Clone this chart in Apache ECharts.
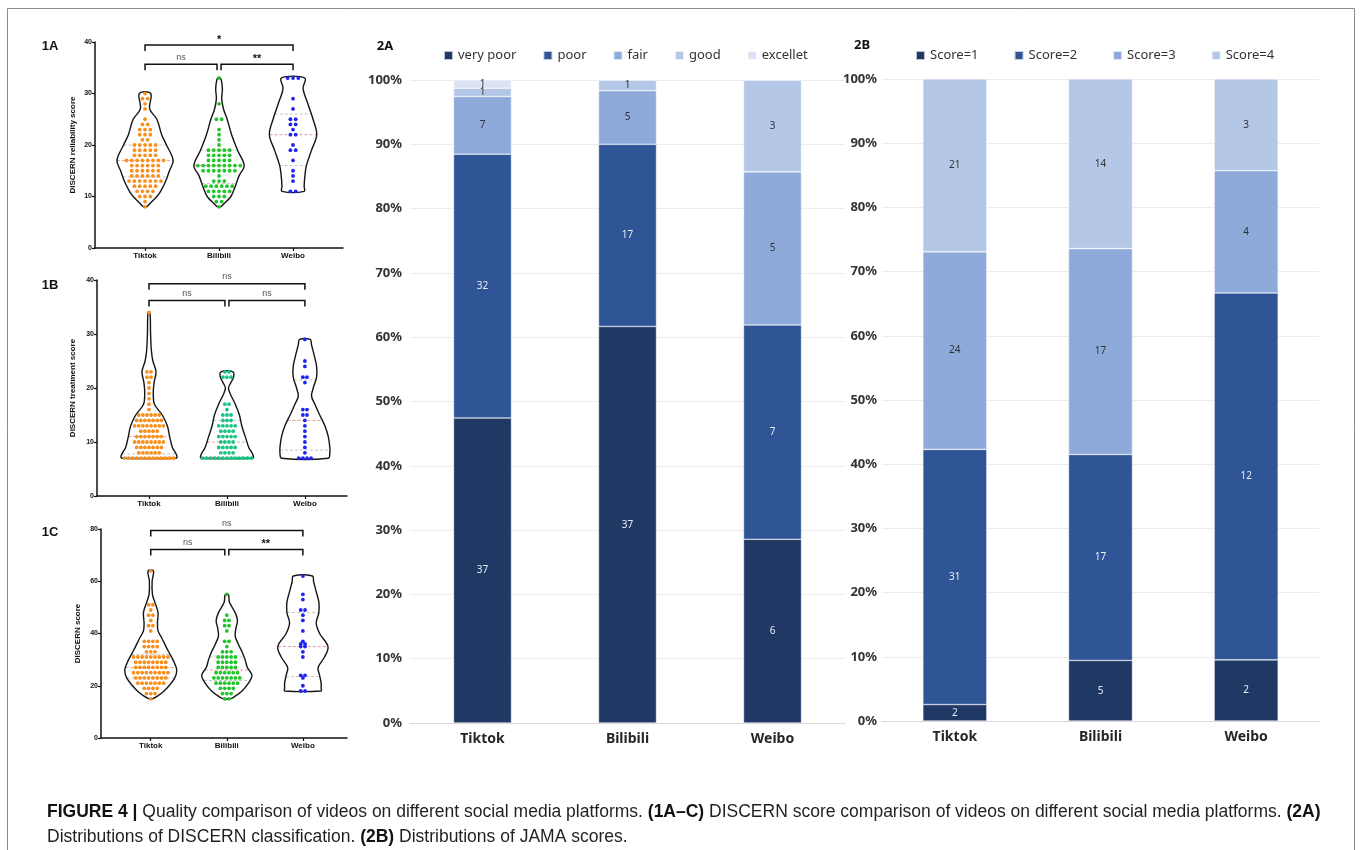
<!DOCTYPE html>
<html><head><meta charset="utf-8">
<script src="https://cdn.jsdelivr.net/npm/echarts@6/dist/echarts.min.js"></script>
<style>html,body{margin:0;padding:0;background:#fff}#c{width:1360px;height:850px}</style>
</head><body><div id="c"></div>
<script>
// ---------------- DATA ----------------
const platforms = ['Tiktok', 'Bilibili', 'Weibo'];

// Panel 1A: DISCERN reliability score — dots as [score, number of videos]
const relTiktok = [[30,1],[29,2],[28,1],[27,1],[25,1],[24,2],[23,3],[22,3],[21,2],[20,5],[19,5],[18,5],[17,8],[16,6],[15,6],[14,6],[13,7],[12,5],[11,4],[10,3],[9,1],[8,1]];
const relBilibili = [[33,1],[28,1],[25,2],[23,1],[22,1],[21,1],[20,1],[19,5],[18,5],[17,5],[16,9],[15,7],[14,1],[13,3],[12,6],[11,5],[10,3],[9,2],[8,1]];
const relWeibo = [[33,3],[29,1],[27,1],[25,2],[24,2],[23,1],[22,2],[20,1],[19,2],[17,1],[15,1],[14,1],[13,1],[11,2]];
// violin outline: [score, half width in category units]
const relTiktokViolin = [[8,0.02],[9,0.09],[10,0.16],[11,0.21],[13,0.28],[15,0.33],[17,0.38],[20,0.29],[22,0.225],[25,0.16],[27,0.063],[30,0.077]];
const relBilibiliViolin = [[8,0.02],[8.5,0.06],[10,0.16],[12,0.22],[14,0.27],[16,0.34],[19,0.25],[22,0.17],[25,0.11],[27,0.06],[29,0.036],[31,0.045],[33,0.02]];
const relWeiboViolin = [[11,0.15],[12,0.15],[14,0.16],[16,0.18],[19,0.25],[22,0.32],[25,0.27],[28,0.2],[31,0.135],[33,0.16]];
// quartiles [Q1, median, Q3]
const relQuartiles = [[13.8,17,20],[12.5,16,19],[16,22,26]];
const relComparisons = [['Tiktok','Bilibili','ns'],['Bilibili','Weibo','**'],['Tiktok','Weibo','*']];

// Panel 1B: DISCERN treatment score
const trtTiktok = [[34,1],[23,2],[22,2],[21,1],[20,1],[19,1],[18,1],[17,1],[16,1],[15,6],[14,7],[13,8],[12,5],[11,7],[10,8],[9,7],[8,6],[7,13]];
const trtBilibili = [[23,2],[22,3],[17,2],[16,1],[15,3],[14,3],[13,5],[12,4],[11,5],[10,4],[9,5],[8,4],[7,13]];
const trtWeibo = [[29,1],[25,1],[24,1],[22,2],[21,1],[16,2],[15,2],[14,1],[13,1],[12,1],[11,1],[10,1],[9,1],[8,1],[7,4]];
const trtTiktokViolin = [[7,0.35],[7.3,0.36],[8,0.34],[9,0.3],[11,0.265],[13,0.235],[15,0.17],[17,0.07],[19,0.055],[21,0.065],[23,0.09],[25,0.05],[27,0.03],[30,0.02],[34,0.012]];
const trtBilibiliViolin = [[7,0.33],[7.3,0.34],[8,0.32],[9,0.28],[11,0.235],[13,0.19],[15,0.16],[17,0.107],[19,0.04],[20,0.02],[21,0.05],[22,0.085],[23,0.077]];
const trtWeiboViolin = [[7,0.3],[8,0.32],[9,0.32],[11,0.3],[13,0.256],[15,0.19],[17,0.128],[18.5,0.085],[20,0.107],[22,0.15],[24,0.15],[26,0.12],[28,0.085],[29,0.068]];
const trtQuartiles = [[7.8,11,14],[7.2,10,14],[8.5,14,21.5]];
const trtComparisons = [['Tiktok','Bilibili','ns'],['Bilibili','Weibo','ns'],['Tiktok','Weibo','ns']];

// Panel 1C: DISCERN score
const totTiktok = [[64,1],[51,2],[49,1],[47,2],[45,1],[43,2],[41,1],[37,4],[35,4],[33,3],[31,9],[29,8],[27,8],[25,9],[23,8],[21,7],[19,4],[17,3],[15,1]];
const totBilibili = [[55,1],[47,1],[45,2],[43,2],[41,1],[37,2],[35,1],[33,3],[31,5],[29,5],[27,5],[25,6],[23,7],[21,6],[19,4],[17,3],[15,2]];
const totWeibo = [[62,1],[55,1],[53,1],[49,2],[47,1],[45,1],[41,1],[37,1],[36,2],[35,2],[33,1],[31,1],[24,2],[23,1],[20,1],[18,2]];
const totTiktokViolin = [[15,0.02],[16,0.088],[18,0.175],[20,0.24],[23,0.316],[26,0.342],[29,0.307],[32,0.254],[35,0.2],[38,0.15],[41,0.096],[44,0.088],[48,0.096],[52,0.053],[55,0.022],[60,0.018],[64,0.035]];
const totBilibiliViolin = [[15,0.044],[16,0.11],[18,0.2],[21,0.285],[24,0.33],[27,0.27],[30,0.24],[33,0.2],[36,0.15],[39,0.11],[42,0.12],[45,0.14],[48,0.11],[52,0.035],[55,0.02]];
const totWeiboViolin = [[18,0.24],[19,0.24],[21,0.24],[24,0.22],[27,0.2],[31,0.285],[35,0.33],[40,0.22],[44,0.175],[48,0.21],[52,0.21],[56,0.175],[60,0.14],[62,0.127]];
const totQuartiles = [[23,27,32],[22,26,31],[23.5,35,48]];
const totComparisons = [['Tiktok','Bilibili','ns'],['Bilibili','Weibo','**'],['Tiktok','Weibo','ns']];

// Panel 2A: DISCERN classification counts
const discernClasses = ['very poor', 'poor', 'fair', 'good', 'excellet'];
const veryPoor = [37, 37, 6];
const poor = [32, 17, 7];
const fair = [7, 5, 5];
const good = [1, 1, 3];
const excellent = [1, 0, 0];

// Panel 2B: JAMA score counts
const jamaClasses = ['Score=1', 'Score=2', 'Score=3', 'Score=4'];
const score1 = [2, 5, 2];
const score2 = [31, 17, 12];
const score3 = [24, 17, 4];
const score4 = [21, 14, 3];

// ---------------- STYLE / RENDER ----------------
const FONT_V = 'Liberation Sans';
const FONT_B = 'Noto Sans';
const dotColors = {
  a: ['#f7901e', '#22c52a', '#1e24f0'],
  b: ['#f7901e', '#1cc483', '#1e24f0'],
  c: ['#f7901e', '#22c52a', '#1e24f0']
};
const blues5 = ['#203864', '#2f5597', '#8eaadb', '#b4c7e7', '#dae3f3'];
const blues4 = ['#203864', '#2f5597', '#8eaadb', '#b4c7e7'];

function interp(ol, s) {
  if (s <= ol[0][0]) return ol[0][1];
  for (let k = 1; k < ol.length; k++) {
    if (s <= ol[k][0]) {
      const t = (s - ol[k-1][0]) / (ol[k][0] - ol[k-1][0]);
      return ol[k-1][1] + t * (ol[k][1] - ol[k-1][1]);
    }
  }
  return ol[ol.length-1][1];
}

function violinSeries(gi, counts, outlines, quarts, colors, spacing) {
  return {
    type: 'custom', xAxisIndex: gi, yAxisIndex: gi, clip: false, silent: true,
    data: platforms.map((p, i) => [i + 1, 0]),
    renderItem(params, api) {
      const i = params.dataIndex, x = i + 1;
      const ol = outlines[i];
      const right = ol.map(([s, w]) => api.coord([x + w, s]));
      const left = ol.slice().reverse().map(([s, w]) => api.coord([x - w, s]));
      const children = [];
      quarts[i].forEach((q, k) => {
        const w = interp(ol, q);
        const a = api.coord([x - w, q]), b = api.coord([x + w, q]);
        children.push({type: 'line', shape: {x1: a[0], y1: a[1], x2: b[0], y2: b[1]},
          style: {stroke: k === 1 ? '#e49a9a' : '#c4c4c4', lineWidth: 1, lineDash: [3, 2]}});
      });
      children.push({type: 'polygon', shape: {points: right.concat(left), smooth: 0.35},
        style: {fill: 'none', stroke: '#151515', lineWidth: 1.4}});
      const cx = api.coord([x, 0])[0];
      counts[i].forEach(([s, n]) => {
        const y = api.coord([x, s])[1];
        for (let j = 0; j < n; j++) {
          children.push({type: 'circle', shape: {cx: cx + (j - (n - 1) / 2) * spacing, cy: y, r: 1.9},
            style: {fill: colors[i]}});
        }
      });
      return {type: 'group', children};
    }
  };
}

function bracketSeries(gi, comps, lowY, highY) {
  return {
    type: 'custom', xAxisIndex: gi, yAxisIndex: gi, clip: false, silent: true,
    data: comps.map(c => [platforms.indexOf(c[0]) + 1, platforms.indexOf(c[1]) + 1]),
    renderItem(params, api) {
      const c = comps[params.dataIndex];
      const i1 = platforms.indexOf(c[0]) + 1, i2 = platforms.indexOf(c[1]) + 1;
      const wide = (i2 - i1) > 1;
      const yv = wide ? highY : lowY;
      const p1 = api.coord([i1, yv]), p2 = api.coord([i2, yv]);
      let x1 = p1[0], x2 = p2[0];
      if (!wide) { if (i1 === 2) x1 += 2; if (i2 === 2) x2 -= 2; }
      const y = p1[1], drop = 6;
      const isNs = c[2] === 'ns';
      return {type: 'group', children: [
        {type: 'polyline', shape: {points: [[x1, y + drop], [x1, y], [x2, y], [x2, y + drop]]},
          style: {stroke: '#111', lineWidth: 1.5, fill: 'none'}},
        {type: 'text', style: {text: c[2], x: (x1 + x2) / 2, y: isNs ? y - 7 : y - 5,
          align: 'center', verticalAlign: 'middle',
          fontSize: isNs ? 9 : 11, fontWeight: isNs ? 'normal' : 'bold',
          fill: isNs ? '#555' : '#111', fontFamily: FONT_V}}
      ]};
    }
  };
}

function violinAxes(gi, xmin, xmax, ymax, yint, name, nameGap) {
  const ax = {color: '#111', width: 1.5};
  return {
    x: {type: 'value', gridIndex: gi, min: xmin, max: xmax,
      axisLine: {show: true, onZero: false, lineStyle: ax},
      splitLine: {show: false},
      axisTick: {show: true, customValues: [1, 2, 3], length: 3, lineStyle: {color: '#111', width: 1.2}},
      axisLabel: {show: true, customValues: [1, 2, 3], formatter: v => platforms[Math.round(v) - 1],
        fontSize: 8, fontWeight: 'bold', color: '#111', margin: 4, fontFamily: FONT_V}},
    y: {type: 'value', gridIndex: gi, min: 0, max: ymax, interval: yint,
      name: name, nameLocation: 'middle', nameGap: nameGap,
      nameTextStyle: {fontSize: 8, fontWeight: 'bold', color: '#111', fontFamily: FONT_V},
      axisLine: {show: true, onZero: false, lineStyle: ax},
      axisTick: {show: true, length: 3, lineStyle: {color: '#111', width: 1.2}},
      axisLabel: {fontSize: 7, fontWeight: 'bold', color: '#111', margin: 3, fontFamily: FONT_V},
      splitLine: {show: false}}
  };
}

const a1 = violinAxes(0, 0.324, 3.675, 40, 10, 'DISCERN reliability score', 18);
const a2 = violinAxes(1, 0.333, 3.54, 40, 10, 'DISCERN treatment score', 20);
const a3 = violinAxes(2, 0.346, 3.58, 80, 20, 'DISCERN score', 19);

function pct(arrs) {
  const totals = platforms.map((p, i) => arrs.reduce((s, a) => s + a[i], 0));
  return arrs.map(a => a.map((v, i) => v / totals[i] * 100));
}
const discernCounts = [veryPoor, poor, fair, good, excellent];
const jamaCounts = [score1, score2, score3, score4];
const discernPct = pct(discernCounts);
const jamaPct = pct(jamaCounts);

function barSeries(names, counts, pcts, colors, gi, width, stack) {
  return names.map((n, k) => ({
    name: n, type: 'bar', stack: stack, xAxisIndex: gi, yAxisIndex: gi,
    barWidth: width, data: pcts[k],
    itemStyle: {color: colors[k], borderColor: 'rgba(255,255,255,0.7)', borderWidth: 0.6},
    label: {show: true, position: 'inside', fontSize: 10, fontFamily: FONT_B,
      color: k < 2 ? '#e8ecf4' : '#333',
      formatter: p => counts[k][p.dataIndex] > 0 ? String(counts[k][p.dataIndex]) : ''},
    emphasis: {disabled: true}
  }));
}

function barAxes(gi, margin) {
  return {
    x: {type: 'category', gridIndex: gi, data: platforms,
      axisLine: {lineStyle: {color: '#d9d9d9'}}, axisTick: {show: false},
      axisLabel: {fontSize: 14, fontWeight: 'bold', color: '#262626', margin: 9, fontFamily: FONT_B}},
    y: {type: 'value', gridIndex: gi, min: 0, max: 100, interval: 10,
      axisLine: {show: false}, axisTick: {show: false},
      axisLabel: {formatter: '{value}%', fontSize: 13, fontWeight: 'bold', color: '#333', margin: margin, fontFamily: FONT_B},
      splitLine: {lineStyle: {color: '#ececec', width: 1}}}
  };
}
const b1 = barAxes(3, 8);
const b2 = barAxes(4, 5);

const captionText =
  '{b|FIGURE 4 |} Quality comparison of videos on different social media platforms. {b|(1A–C)} DISCERN score comparison of videos on different social media platforms. {b|(2A)}\n' +
  'Distributions of DISCERN classification. {b|(2B)} Distributions of JAMA scores.';

const chart = echarts.init(document.getElementById('c'), null, {renderer: 'canvas'});
chart.setOption({
  animation: false,
  backgroundColor: '#fff',
  grid: [
    {left: 95, top: 42, width: 248, height: 206},
    {left: 97, top: 280, width: 250, height: 216},
    {left: 101, top: 529, width: 246, height: 209},
    {left: 410, top: 80, width: 435, height: 643},
    {left: 882, top: 79, width: 437, height: 642}
  ],
  xAxis: [a1.x, a2.x, a3.x, b1.x, b2.x],
  yAxis: [a1.y, a2.y, a3.y, b1.y, b2.y],
  legend: [
    {data: discernClasses, left: 438, top: 44, itemWidth: 9, itemHeight: 9, itemGap: 26, icon: 'rect',
      selectedMode: false, textStyle: {fontSize: 13, color: '#333', fontFamily: FONT_B}},
    {data: jamaClasses, left: 910, top: 44, itemWidth: 9, itemHeight: 9, itemGap: 35, icon: 'rect',
      selectedMode: false, textStyle: {fontSize: 13, color: '#333', fontFamily: FONT_B}}
  ],
  series: [
    violinSeries(0, [relTiktok, relBilibili, relWeibo], [relTiktokViolin, relBilibiliViolin, relWeiboViolin], relQuartiles, dotColors.a, 5.3),
    bracketSeries(0, relComparisons, 35.7, 39.4),
    violinSeries(1, [trtTiktok, trtBilibili, trtWeibo], [trtTiktokViolin, trtBilibiliViolin, trtWeiboViolin], trtQuartiles, dotColors.b, 4.1),
    bracketSeries(1, trtComparisons, 36.2, 39.3),
    violinSeries(2, [totTiktok, totBilibili, totWeibo], [totTiktokViolin, totBilibiliViolin, totWeiboViolin], totQuartiles, dotColors.c, 4.3),
    bracketSeries(2, totComparisons, 72.2, 79.4),
    ...barSeries(discernClasses, discernCounts, discernPct, blues5, 3, 58, 'discern'),
    ...barSeries(jamaClasses, jamaCounts, jamaPct, blues4, 4, 64, 'jama')
  ],
  graphic: [
    {type: 'rect', silent: true, shape: {x: 7.5, y: 8.5, width: 1347, height: 900},
      style: {fill: 'none', stroke: '#8a8a8a', lineWidth: 1}},
    {type: 'text', style: {text: '1A', x: 50, y: 46, align: 'center', verticalAlign: 'middle', fontSize: 13, fontWeight: 'bold', fill: '#111', fontFamily: FONT_V}},
    {type: 'text', style: {text: '1B', x: 50, y: 285, align: 'center', verticalAlign: 'middle', fontSize: 13, fontWeight: 'bold', fill: '#111', fontFamily: FONT_V}},
    {type: 'text', style: {text: '1C', x: 50, y: 532, align: 'center', verticalAlign: 'middle', fontSize: 13, fontWeight: 'bold', fill: '#111', fontFamily: FONT_V}},
    {type: 'text', style: {text: '2A', x: 385, y: 46, align: 'center', verticalAlign: 'middle', fontSize: 13, fontWeight: 'bold', fill: '#111', fontFamily: FONT_B}},
    {type: 'text', style: {text: '2B', x: 862, y: 45, align: 'center', verticalAlign: 'middle', fontSize: 13, fontWeight: 'bold', fill: '#111', fontFamily: FONT_B}},
    {type: 'text', style: {text: captionText, x: 47, y: 800, align: 'left', verticalAlign: 'top',
      fontSize: 17.5, lineHeight: 25, fill: '#231f20', fontFamily: FONT_V,
      rich: {b: {fontWeight: 'bold', fontSize: 17.5, lineHeight: 25, fill: '#111', fontFamily: FONT_V}}}}
  ]
});
</script></body></html>
